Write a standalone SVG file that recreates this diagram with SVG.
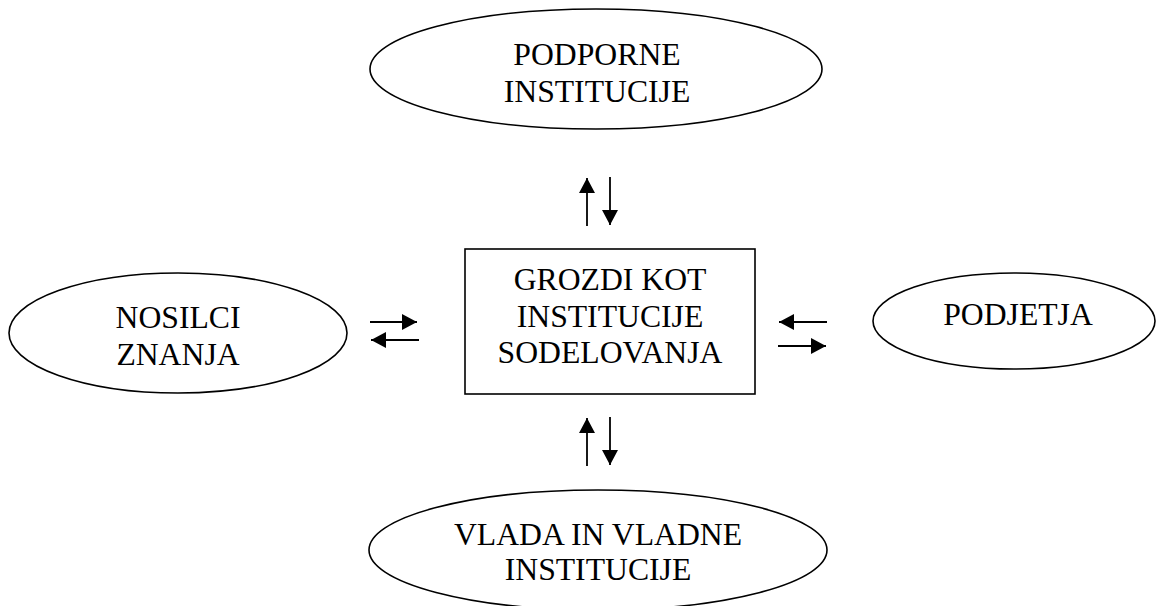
<svg xmlns="http://www.w3.org/2000/svg" width="1157" height="606" viewBox="0 0 1157 606">
<style>
.shape{fill:#fff;stroke:#000;stroke-width:1.6}
.lbl{font-family:"Liberation Serif","Times New Roman",serif;font-size:31.7px;fill:#000;text-anchor:middle}
.arr{stroke:#000;stroke-width:1.8;fill:none;marker-end:url(#ah)}
</style>
<defs>
<marker id="ah" viewBox="0 0 15 16" refX="15" refY="8" markerWidth="15" markerHeight="16" markerUnits="userSpaceOnUse" orient="auto">
<path d="M0,0 L15,8 L0,16 Z" fill="#000"/>
</marker>
</defs>
<rect width="1157" height="606" fill="#fff"/>
<g id="podporne">
<ellipse class="shape" cx="596" cy="69" rx="226" ry="60"/>
<text class="lbl" x="597" y="65">PODPORNE</text>
<text class="lbl" x="597" y="102">INSTITUCIJE</text>
</g>
<g id="nosilci">
<ellipse class="shape" cx="178" cy="333" rx="169" ry="60"/>
<text class="lbl" x="178" y="328">NOSILCI</text>
<text class="lbl" x="178" y="365">ZNANJA</text>
</g>
<g id="grozdi">
<rect class="shape" x="465" y="249" width="290" height="145"/>
<text class="lbl" x="610" y="290">GROZDI KOT</text>
<text class="lbl" x="610" y="327">INSTITUCIJE</text>
<text class="lbl" x="610" y="363">SODELOVANJA</text>
</g>
<g id="podjetja">
<ellipse class="shape" cx="1014" cy="321" rx="141" ry="48"/>
<text class="lbl" x="1018" y="325">PODJETJA</text>
</g>
<g id="vlada">
<ellipse class="shape" cx="598" cy="550" rx="229" ry="60"/>
<text class="lbl" x="598" y="545">VLADA IN VLADNE</text>
<text class="lbl" x="598" y="580">INSTITUCIJE</text>
</g>
<g id="connectors">
<line class="arr" x1="587" y1="226" x2="587" y2="178"/>
<line class="arr" x1="610" y1="177" x2="610" y2="225"/>
<line class="arr" x1="587" y1="466" x2="587" y2="418"/>
<line class="arr" x1="610" y1="417" x2="610" y2="465"/>
<line class="arr" x1="370" y1="322" x2="417" y2="322"/>
<line class="arr" x1="419" y1="340" x2="371" y2="340"/>
<line class="arr" x1="827" y1="322" x2="779" y2="322"/>
<line class="arr" x1="778" y1="346" x2="826" y2="346"/>
</g>
</svg>
